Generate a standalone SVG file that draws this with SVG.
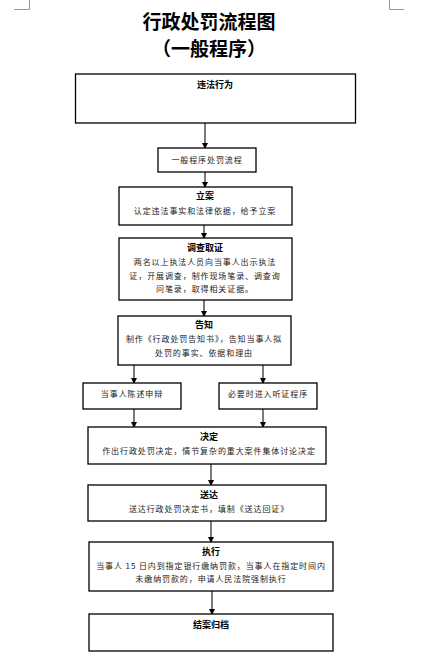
<svg xmlns="http://www.w3.org/2000/svg" width="428" height="670" viewBox="0 0 428 670">
<defs>
<marker id="ah" markerWidth="6" markerHeight="6" refX="5" refY="3" orient="auto" markerUnits="userSpaceOnUse">
<path d="M0,0 L6,3 L0,6 Z" fill="#000"/>
</marker>
<style>
.box{fill:#fff;stroke:#000;stroke-width:1.3}
.t{font-family:"Noto Sans CJK SC","Liberation Sans",sans-serif;text-anchor:middle;fill:#000}
.h{font-size:9px;font-weight:700}
.b{font-size:8px;letter-spacing:0.9px;fill:#222}
.title{font-size:19px;font-weight:700}
.cn{stroke:#222;stroke-width:1.2;fill:none;marker-end:url(#ah)}
.crop{stroke:#999;stroke-width:1;fill:none}
</style>
</defs>
<rect width="428" height="670" fill="#fff"/>
<path class="crop" d="M29.5,0 V9.5 H14"/>
<path class="crop" d="M389.5,0 V9.5 H404"/>
<g id="title">
<text class="t title" x="209" y="29">行政处罚流程图</text>
<text class="t title" x="209" y="56">（一般程序）</text>
</g>
<g id="connectors">
<line class="cn" x1="205" y1="123" x2="205" y2="148"/>
<line class="cn" x1="205" y1="172" x2="205" y2="187"/>
<line class="cn" x1="204" y1="225" x2="204" y2="238"/>
<line class="cn" x1="204" y1="300" x2="204" y2="316"/>
<line class="cn" x1="134" y1="365" x2="134" y2="383"/>
<line class="cn" x1="263" y1="365" x2="263" y2="383"/>
<line class="cn" x1="134" y1="409" x2="134" y2="427"/>
<line class="cn" x1="263" y1="409" x2="263" y2="427"/>
<line class="cn" x1="211" y1="464" x2="211" y2="485"/>
<line class="cn" x1="211" y1="521" x2="211" y2="542"/>
<line class="cn" x1="212" y1="591" x2="212" y2="614"/>
</g>
<g id="n1">
<rect class="box" x="75.5" y="74" width="280" height="49"/>
<text class="t h" x="215" y="88">违法行为</text>
</g>
<g id="n2">
<rect class="box" x="158" y="148" width="98" height="24"/>
<text class="t b" x="207" y="163">一般程序处罚流程</text>
</g>
<g id="n3">
<rect class="box" x="119" y="187" width="173" height="38"/>
<text class="t h" x="205" y="199">立案</text>
<text class="t b" x="205" y="214">认定违法事实和法律依据，给予立案</text>
</g>
<g id="n4">
<rect class="box" x="119" y="238" width="173" height="62"/>
<text class="t h" x="205" y="251">调查取证</text>
<text class="t b" x="205" y="265">两名以上执法人员向当事人出示执法</text>
<text class="t b" x="205" y="279">证，开展调查，制作现场笔录、调查询</text>
<text class="t b" x="205" y="292">问笔录，取得相关证据。</text>
</g>
<g id="n5">
<rect class="box" x="118" y="316" width="173" height="49"/>
<text class="t h" x="204" y="328">告知</text>
<text class="t b" x="204" y="342">制作《行政处罚告知书》，告知当事人拟</text>
<text class="t b" x="204" y="356">处罚的事实、依据和理由</text>
</g>
<g id="n6">
<rect class="box" x="83" y="383" width="98" height="26"/>
<text class="t b" x="132" y="397">当事人陈述申辩</text>
</g>
<g id="n7">
<rect class="box" x="219" y="383" width="98" height="26"/>
<text class="t b" x="268" y="397">必要时进入听证程序</text>
</g>
<g id="n8">
<rect class="box" x="88" y="427" width="238" height="37"/>
<text class="t h" x="209" y="440">决定</text>
<text class="t b" x="209" y="454">作出行政处罚决定，情节复杂的重大案件集体讨论决定</text>
</g>
<g id="n9">
<rect class="box" x="88" y="485" width="238" height="36"/>
<text class="t h" x="209" y="498">送达</text>
<text class="t b" x="209" y="512">送达行政处罚决定书，填制《送达回证》</text>
</g>
<g id="n10">
<rect class="box" x="89" y="542" width="244" height="49"/>
<text class="t h" x="211" y="555">执行</text>
<text class="t b" x="211" y="569">当事人 15 日内到指定银行缴纳罚款，当事人在指定时间内</text>
<text class="t b" x="211" y="582">未缴纳罚款的，申请人民法院强制执行</text>
</g>
<g id="n11">
<rect class="box" x="89" y="614" width="244" height="37"/>
<text class="t h" x="211" y="628">结案归档</text>
</g>
</svg>
